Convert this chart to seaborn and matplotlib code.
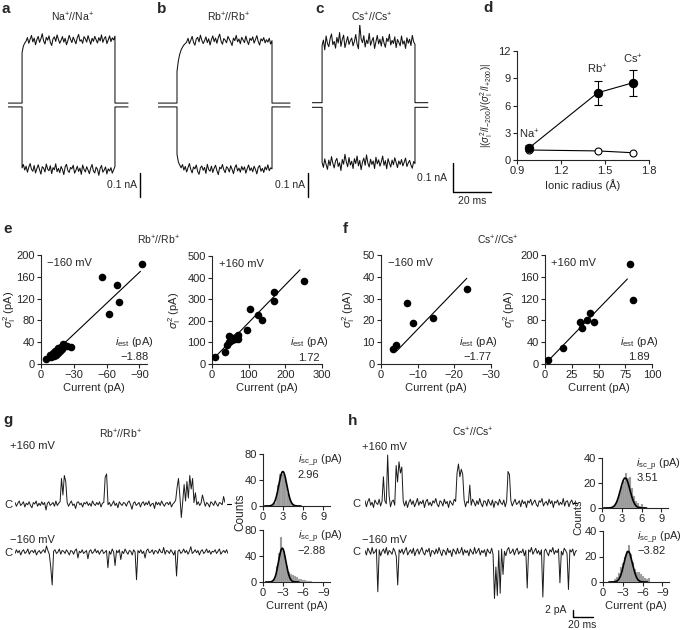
import numpy as np
import pandas as pd
import matplotlib
matplotlib.use('Agg')
import matplotlib.pyplot as plt
from matplotlib.lines import Line2D
import seaborn as sns

sns.set_style('ticks')
plt.rcParams['font.family'] = ['Liberation Sans', 'DejaVu Sans']
plt.rcParams['mathtext.fontset'] = 'custom'
plt.rcParams['mathtext.rm'] = 'Liberation Sans'
plt.rcParams['mathtext.it'] = 'Liberation Sans:italic'
plt.rcParams['mathtext.bf'] = 'Liberation Sans:bold'
plt.rcParams['axes.linewidth'] = 0.8

# ---- a-c: macroscopic currents (pA = nA*1000), plateau samples ----
a_top = [218, 246, 258, 266, 281, 257, 274, 290, 263, 279, 251, 272, 286, 261, 276, 297, 267, 254, 282, 270,
         288, 261, 248, 276, 284, 265, 292, 273, 257, 270, 285, 262, 278, 251, 268, 290, 274, 260, 283, 269,
         255, 280, 294, 266, 272, 257, 285, 276, 262, 289, 271, 253, 278, 265, 286, 272, 258, 281, 267, 292,
         261, 277, 285, 256, 271, 288, 264, 280, 271, 287]
a_bot = [-262, -248, -271, -255, -280, -259, -244, -268, -276, -252, -283, -265, -249, -270, -288, -257, -263,
         -279, -246, -267, -274, -253, -286, -261, -270, -245, -278, -264, -282, -256, -269, -290, -258, -247,
         -273, -281, -260, -266, -251, -284, -272, -255, -277, -263, -289, -250, -268, -279, -257, -271, -286,
         -262, -248, -275, -283, -259, -268, -293, -264, -252, -280, -271, -258, -287, -266, -275, -261, -284,
         -270, -256]
b_top = [140, 185, 212, 230, 241, 250, 256, 262, 278, 255, 270, 286, 261, 249, 275, 282, 263, 291, 270, 256,
         268, 284, 260, 276, 250, 272, 288, 264, 279, 257, 281, 295, 266, 253, 277, 270, 259, 286, 274, 262,
         248, 279, 268, 290, 263, 275, 255, 282, 271, 260, 287, 266, 252, 278, 269, 284, 258, 273, 289, 264,
         250, 276, 267, 281, 259, 272, 262, 278, 254, 268]
b_bot = [-205, -238, -250, -262, -248, -271, -256, -279, -261, -244, -268, -283, -258, -266, -250, -277, -289,
         -262, -254, -272, -260, -285, -247, -269, -276, -255, -281, -263, -251, -274, -290, -259, -266, -248,
         -270, -282, -257, -264, -279, -253, -268, -286, -261, -249, -275, -263, -280, -256, -271, -258, -284,
         -265, -250, -273, -262, -278, -255, -269, -287, -260, -252, -276, -264, -281, -258, -270, -249, -274,
         -262, -266]
c_top = [205, 224, 190, 238, 212, 201, 229, 245, 208, 219, 196, 233, 214, 250, 202, 226, 241, 198, 217, 236,
         209, 222, 231, 204, 219, 243, 210, 194, 278, 228, 215, 239, 200, 224, 212, 247, 206, 221, 233, 195,
         218, 240, 211, 227, 203, 236, 214, 199, 230, 219, 244, 207, 223, 212, 235, 198, 226, 216, 204, 238,
         210, 221, 195, 232, 213, 227, 205, 240, 218, 209]
c_bot = [-198, -215, -186, -205, -222, -190, -209, -178, -201, -217, -193, -184, -212, -199, -226, -188, -204,
         -170, -196, -213, -181, -207, -194, -219, -185, -202, -176, -210, -191, -223, -197, -183, -208, -172,
         -200, -214, -187, -205, -193, -219, -180, -203, -189, -211, -196, -176, -208, -192, -220, -185, -201,
         -214, -190, -206, -182, -198, -216, -193, -205, -188, -210, -197, -183, -212, -200, -191, -207, -218,
         -195, -202]
base_pA = [8, -8]          # holding level of the two sweeps
pulse_ms = {'a': (7.4, 56.3, 63.2), 'b': (10.0, 60.0, 69.5), 'c': (5.3, 54.2, 61.0)}

# ---- d ----
radius = [0.98, 1.45, 1.69]
ratio_closed = [1.3, 7.4, 8.5]
err_closed = [0.3, 1.3, 1.4]
ratio_open = [1.1, 1.0, 0.8]
ion_labels = ['Na$^{+}$', 'Rb$^{+}$', 'Cs$^{+}$']

# ---- e, f: variance vs mean current ----
e_neg_I = [-5, -8, -9, -11, -12, -12, -13, -14, -15, -16, -16, -17, -18, -19, -20, -21, -24, -27, -56, -62, -70, -71, -92]
e_neg_var = [10, 17, 12, 21, 14, 19, 24, 16, 26, 20, 29, 23, 32, 27, 37, 35, 33, 32, 159, 91, 145, 113, 183]
e_pos_I = [8, 36, 40, 45, 47, 49, 52, 55, 58, 62, 66, 72, 72, 95, 104, 125, 136, 170, 170, 252]
e_pos_var = [34, 56, 90, 100, 130, 108, 120, 112, 121, 118, 125, 133, 118, 157, 255, 225, 202, 290, 335, 382]
f_neg_I = [-3.2, -4.0, -7.1, -8.8, -14.3, -23.4]
f_neg_var = [6.9, 8.7, 27.8, 18.9, 21.0, 34.3]
f_pos_I = [3.1, 17, 32.8, 35, 39.6, 42, 45.8, 79.9, 82]
f_pos_var = [8, 29, 77, 66, 81, 94, 77, 183, 118]
fit_e_neg = ([-7, -91], [11, 170])
fit_e_pos = ([5, 240], [26, 436])
fit_f_neg = ([-4.3, -23.4], [6, 39.3])
fit_f_pos = ([3, 77], [6, 156])
i_est = ['\u22121.88', '1.72', '\u22121.77', '1.89']

# ---- g, h: single-channel records (0.1 pA units) ----
g_pos = [2, -3, 1, 4, -2, 0, 3, -4, 1, -1, 3, -2, -5, 2, 0, 4, -3, 1, -2, 3,
         -1, 2, -8, 1, 3, -2, 0, 2, -3, 4, -2, 1, 3, 34, 12, 38, 30, 2, -3, 1,
         4, -2, 0, -6, 2, 3, -1, 1, -4, 2, 0, 3, -2, 1, -3, 4, 0, -2, 2, -1,
         3, -4, 1, 2, 36, 40, -1, 2, -3, 0, 4, -2, 1, -5, 3, 0, -2, 2, 1, -3,
         2, 4, -1, -7, 1, 3, -2, 0, 2, -4, 1, 3, -2, 2, -1, 4, -3, 0, 1, -6,
         3, -1, 2, -2, 4, 0, -3, 1, 2, -1, 3, -4, 0, 2, 5, 22, 34, 10, -18, 3,
         26, 4, 30, 8, 38, 20, 34, 2, 15, -1, 3, -2, 1, 12, 4, -3, 2, 0, -4, 3,
         1, -2, 4, 0, -3, 2, 1, -1, 10, 2]
g_neg = [-2, 3, -1, 2, -4, 1, 3, -2, 0, 4, -3, 1, 2, -1, 3, -4, 0, 2, -2, 1,
         3, -1, 8, 2, -3, -20, -44, 1, 3, -2, 0, 4, -3, 2, 1, -2, 3, 0, -4, 2,
         1, -3, 2, 4, -8, 1, -1, 3, -2, 0, 2, -9, 1, 3, -2, 0, 4, -1, 2, -3,
         1, 3, -2, 0, 2, -21, 1, -3, 4, 0, -18, 2, -1, 3, -10, 1, -2, 4, 0, -3,
         2, 1, -4, 3, 0, -37, 2, -1, 3, -2, 1, -8, 2, 4, -1, 0, 3, -3, 2, 1,
         -2, 4, 0, -1, 6, -3, 2, 1, -2, 3, 0, -4, 2, -32, 1, 3, -2, 0, 4, -1,
         2, -3, 1, 7, -2, 0, 3, -1, 2, -4, 1, 3, -2, 0, 4, -1, 2, -3, 1, 0,
         3, -2, 1, 4, -3, 0, 2, -1, 3, -2]
h_pos = [3, -5, 2, 6, -3, 1, -6, 4, 0, -2, 5, -4, 2, 35, 3, -1, 64, 10, -5, 2,
         4, -3, 50, 28, 55, 40, 48, 2, -4, 3, -6, 1, 5, -2, 3, -5, 0, 6, -3, 2,
         -1, 4, -6, 2, 5, -3, 1, -4, 3, 0, 6, -2, -5, 3, 1, -4, 5, -1, 2, -6,
         3, 0, -3, 5, 2, 40, 52, 35, 45, 38, 4, -5, 2, 0, 24, -3, 5, 1, -4, 3,
         -2, 6, -1, -5, 3, 2, -4, 5, 0, -3, 4, -6, 2, 1, -3, 5, 0, -2, 4, -5,
         2, 42, 38, 3, -4, 1, 5, -2, 0, 3, -5, 4, -1, 2, -6, 3, 0, 5, -3, 1,
         4, -2, -5, 3, 1, 6, -4, 0, 2, -3, 5, -1, 3, -6, 2, 0, 4, -3, 1, -2,
         6, -4, 2, 3, -5, 1, 4, -2, 0, 3]
h_neg = [2, -4, 5, 1, -3, 6, -2, 0, 4, -53, 3, -5, 1, 4, -2, 6, -4, 2, 0, -3,
         5, 1, -6, -44, 3, -1, 4, -3, 2, 6, -4, 0, 3, -2, 5, -5, 1, 4, -3, 2,
         6, -1, -4, 3, 0, 5, -6, 2, 1, -3, 4, -2, 6, 0, -5, 3, 1, -4, 5, -1,
         2, -6, 4, 1, -3, 5, -2, 0, 6, -4, 3, -1, 2, -5, 4, 0, -3, 6, -2, 1,
         5, -4, 2, -1, 3, -6, 4, 0, -2, 5, -3, -62, -20, -58, 2, -55, 4, -30, 1, -5,
         3, 6, -2, 0, 4, -4, 2, 5, -3, 1, -1, 4, -5, 2, -48, 3, 0, 6, -3, 1,
         5, -2, 2, -4, 3, -60, 1, 4, -1, -5, 3, 0, 6, -3, 2, -1, 4, -41, 1, -4,
         5, 2, -2, -50, 3, 0, 4, -5, 1, 2]

# histograms (bin centres, counts) and Gaussian fit (peak, mean, sd)
g_up_x = [1.5, 1.75, 2.0, 2.25, 2.5, 2.75, 3.0, 3.25, 3.5, 3.75, 4.0, 4.25, 4.5, 4.75, 5.0]
g_up_n = [2, 5, 14, 32, 50, 53, 50, 45, 32, 20, 11, 6, 3, 2, 1]
g_dn_x = [-1.5, -1.8, -2.1, -2.4, -2.7, -3.0, -3.3, -3.6, -3.9, -4.2, -4.5, -4.8, -5.1, -5.4, -5.7, -6.0, -6.3, -6.6, -6.9, -7.2]
g_dn_n = [2, 8, 25, 45, 70, 50, 40, 25, 15, 12, 11, 10, 8, 5, 4, 3, 3, 2, 1, 1]
h_up_x = [1.5, 1.8, 2.1, 2.4, 2.7, 3.0, 3.3, 3.6, 3.9, 4.2, 4.5, 4.8, 5.1, 5.4, 5.7, 6.0, 6.3]
h_up_n = [1, 2, 4, 8, 13, 18, 22, 28, 24, 25, 16, 10, 6, 4, 2, 3, 1]
h_dn_x = [-1.2, -1.5, -1.8, -2.1, -2.4, -2.7, -3.0, -3.3, -3.6, -3.9, -4.2, -4.5, -4.8, -5.1, -5.4, -5.7, -6.0, -6.3, -6.6, -6.9]
h_dn_n = [1, 1, 2, 4, 7, 12, 15, 20, 24, 29, 22, 16, 10, 8, 8, 6, 5, 3, 2, 3]
g_up_fit = (53, 2.96, 0.6)
g_dn_fit = (52, -2.88, 0.55)
h_up_fit = (24, 3.51, 0.72)
h_dn_fit = (24, -3.82, 0.65)
i_sc = ['2.96', '\u22122.88', '3.51', '\u22123.82']

W, H = 685, 630
fig = plt.figure(figsize=(W / 100, H / 100), dpi=100)


def box(x0, y0, x1, y1):
    return fig.add_axes([x0 / W, 1 - y1 / H, (x1 - x0) / W, (y1 - y0) / H])


def ftext(x, y, s, **kw):
    kw.setdefault('fontsize', 8)
    fig.text(x / W, 1 - y / H, s, **kw)


def fline(xs, ys, lw=1.0):
    fig.add_artist(Line2D([x / W for x in xs], [1 - y / H for y in ys], color='k', lw=lw,
                          transform=fig.transFigure))


def style(ax):
    sns.despine(ax=ax)
    ax.tick_params(direction='out', length=3, width=0.8, labelsize=8, pad=1.5)


# ---------- a, b, c ----------
def pulse(ax, top, bot, key, px_per_nA):
    t_on, t_off, t_end = pulse_ms[key]
    for vals, b in ((top, base_pA[0]), (bot, base_pA[1])):
        t = np.concatenate([[0, t_on], np.linspace(t_on, t_off, len(vals)), [t_off, t_end]])
        y = np.concatenate([[b, b], vals, [b, b]]) / 1000
        sns.lineplot(x=t, y=y, ax=ax, color='#111111', lw=0.75, estimator=None, sort=False)
    ax.set_xlim(0, 142 / 1.9)
    ax.set_ylim(-100 / px_per_nA, 80 / px_per_nA)
    ax.axis('off')


pulse(box(8, 25, 150, 205), a_top, a_bot, 'a', 240)
pulse(box(158, 25, 300, 205), b_top, b_bot, 'b', 240)
pulse(box(312, 25, 454, 205), c_top, c_bot, 'c', 290)
ftext(72, 17, 'Na$^{+}$//Na$^{+}$', ha='center', va='center', fontsize=7.5)
ftext(228, 17, 'Rb$^{+}$//Rb$^{+}$', ha='center', va='center', fontsize=7.5)
ftext(372, 17, 'Cs$^{+}$//Cs$^{+}$', ha='center', va='center', fontsize=7.5)
fline([140, 140], [173, 197])
fline([308, 308], [173, 197])
fline([453, 453, 491], [163, 192, 192])
ftext(137, 185, '0.1 nA', ha='right', va='center', fontsize=7.5)
ftext(305, 185, '0.1 nA', ha='right', va='center', fontsize=7.5)
ftext(447, 178, '0.1 nA', ha='right', va='center', fontsize=7.5)
ftext(472, 201, '20 ms', ha='center', va='center', fontsize=7.5)

# ---------- d ----------
ax = box(517, 51, 649, 160)
ax.errorbar(radius, ratio_closed, yerr=err_closed, fmt='none', ecolor='k', elinewidth=0.8, capsize=3, capthick=0.8)
sns.lineplot(x=radius, y=ratio_open, ax=ax, color='k', lw=0.8, marker='o', markersize=5,
             markerfacecolor='white', markeredgecolor='k', markeredgewidth=0.8)
sns.lineplot(x=radius, y=ratio_closed, ax=ax, color='k', lw=0.8, marker='o', markersize=6,
             markerfacecolor='k', markeredgecolor='k')
for r, v, e, s in zip(radius, ratio_closed, err_closed, ion_labels):
    ax.text(r, v + e + 0.5, s, ha='center', va='bottom', fontsize=8)
ax.set_xlim(0.9, 1.8)
ax.set_ylim(0, 12)
ax.set_xticks([0.9, 1.2, 1.5, 1.8])
ax.set_yticks([0, 3, 6, 9, 12])
ax.set_xlabel('Ionic radius (\u00c5)', fontsize=8, labelpad=2)
ax.set_ylabel(r'$|(\sigma_{\rm I}^{2}/I_{-200})/(\sigma_{\rm I}^{2}/I_{+200})|$', fontsize=7, labelpad=2)
style(ax)


# ---------- e, f ----------
def scatter(rect, xs, ys, fit, xlim, xticks, ylim, yticks, mv, iest, label_x):
    ax = box(*rect)
    sns.lineplot(x=fit[0], y=fit[1], ax=ax, color='k', lw=0.8)
    sns.scatterplot(x=xs, y=ys, ax=ax, color='k', s=30, linewidth=0, zorder=3)
    ax.set_xlim(*xlim)
    ax.set_ylim(*ylim)
    ax.set_xticks(xticks)
    ax.set_yticks(yticks)
    ax.set_xlabel('Current (pA)', fontsize=8, labelpad=2)
    ax.set_ylabel(r'$\sigma_{\rm I}^{2}$ (pA)', fontsize=8)
    ax.yaxis.set_label_coords(label_x, 0.5)
    ax.text(0.06, 0.97, mv, transform=ax.transAxes, ha='left', va='top', fontsize=8)
    ax.text(0.88, 0.2, r'$i_{\rm est}$ (pA)', transform=ax.transAxes, ha='center', va='center', fontsize=8)
    ax.text(0.88, 0.06, iest, transform=ax.transAxes, ha='center', va='center', fontsize=8)
    style(ax)


scatter((41, 255, 147, 364), e_neg_I, e_neg_var, fit_e_neg, (0, -97), [0, -30, -60, -90], (0, 200),
        [0, 40, 80, 120, 160, 200], '\u2212160 mV', i_est[0], -0.22)
scatter((212, 256, 322, 364), e_pos_I, e_pos_var, fit_e_pos, (0, 300), [0, 100, 200, 300], (0, 500),
        [0, 100, 200, 300, 400, 500], '+160 mV', i_est[1], -0.26)
scatter((381, 255, 491, 364), f_neg_I, f_neg_var, fit_f_neg, (0, -30), [0, -10, -20, -30], (0, 50),
        [0, 10, 20, 30, 40, 50], '\u2212160 mV', i_est[2], -0.22)
scatter((545, 255, 652, 364), f_pos_I, f_pos_var, fit_f_pos, (0, 100), [0, 25, 50, 75, 100], (0, 200),
        [0, 40, 80, 120, 160, 200], '+160 mV', i_est[3], -0.25)
ftext(158, 240, 'Rb$^{+}$//Rb$^{+}$', ha='center', va='center', fontsize=7.5)
ftext(498, 240, 'Cs$^{+}$//Cs$^{+}$', ha='center', va='center', fontsize=7.5)


# ---------- g, h ----------
def trace(rect, vals, ylim):
    ax = box(*rect)
    sns.lineplot(x=np.arange(len(vals)), y=np.array(vals) / 10, ax=ax, color='#1a1a1a', lw=0.7,
                 estimator=None)
    ax.set_xlim(0, len(vals) - 1)
    ax.set_ylim(*ylim)
    ax.axis('off')


trace((15, 468, 225, 520), g_pos, (-16 / 7.5, 36 / 7.5))
trace((15, 540, 228, 592), g_neg, (-40 / 7.5, 12 / 7.5))
trace((365, 450, 576, 520), h_pos, (-17 / 7.5, 53 / 7.5))
trace((365, 540, 577, 605), h_neg, (-53 / 7.5, 12 / 7.5))


def hist(rect, xs, ns, fit, xlim, xticks, ylim, yticks, label, val, xlabel=False):
    ax = box(*rect)
    xs = np.array(xs, dtype=float)
    w = abs(xs[1] - xs[0])
    lo = xs.min() - w / 2
    edges = [lo + k * w for k in range(len(xs) + 1)]
    df = pd.DataFrame({'current': xs, 'count': ns})
    sns.histplot(data=df, x='current', weights='count', bins=edges, ax=ax, color='#8f8f8f',
                 edgecolor='#d8d8d8', linewidth=0.2, alpha=1)
    peak, mu, sd = fit
    gx = np.linspace(mu - 4.5 * sd, mu + 4.5 * sd, 200)
    sns.lineplot(x=gx, y=peak * np.exp(-(gx - mu) ** 2 / (2 * sd ** 2)), ax=ax, color='k', lw=1.2)
    ax.set_xlim(*xlim)
    ax.set_ylim(*ylim)
    ax.set_xticks(xticks)
    ax.set_yticks(yticks)
    ax.set_ylabel('')
    ax.set_xlabel('Current (pA)' if xlabel else '', fontsize=8, labelpad=2)
    ax.text(0.52, 0.86, label, transform=ax.transAxes, ha='left', va='center', fontsize=8)
    ax.text(0.52, 0.6, val, transform=ax.transAxes, ha='left', va='center', fontsize=8)
    style(ax)


isc = r'$i_{\mathrm{sc\_p}}$ (pA)'
hist((263, 454, 330, 506), g_up_x, g_up_n, g_up_fit, (0, 10), [0, 3, 6, 9], (0, 80), [0, 40, 80], isc, i_sc[0])
hist((263, 530, 330, 582), g_dn_x, g_dn_n, g_dn_fit, (0, -10), [0, -3, -6, -9], (0, 80), [0, 40, 80], isc,
     i_sc[1], True)
hist((602, 458, 668, 508), h_up_x, h_up_n, h_up_fit, (0, 10), [0, 3, 6, 9], (0, 40), [0, 20, 40], isc, i_sc[2])
hist((603, 531, 669, 582), h_dn_x, h_dn_n, h_dn_fit, (0, -10), [0, -3, -6, -9], (0, 40), [0, 20, 40], isc,
     i_sc[3], True)

ftext(240, 512, 'Counts', rotation=90, ha='center', va='center', fontsize=8.5)
ftext(578, 517, 'Counts', rotation=90, ha='center', va='center', fontsize=8)
ftext(120, 434, 'Rb$^{+}$//Rb$^{+}$', ha='center', va='center', fontsize=7.5)
ftext(473, 432, 'Cs$^{+}$//Cs$^{+}$', ha='center', va='center', fontsize=7.5)
ftext(10, 446, '+160 mV', ha='left', va='center')
ftext(10, 540, '\u2212160 mV', ha='left', va='center')
ftext(362, 447, '+160 mV', ha='left', va='center')
ftext(362, 540, '\u2212160 mV', ha='left', va='center')
for x, y in ((4, 505), (4, 553), (352, 504), (352, 552)):
    ftext(x, y, 'C', ha='left', va='center')
fline([227, 231], [504, 504], lw=0.8)
fline([573, 577], [503, 503], lw=0.8)
fline([573, 573, 593], [610, 617, 617])
ftext(566, 610, '2 pA', ha='right', va='center', fontsize=7.5)
ftext(582, 625, '20 ms', ha='center', va='center', fontsize=7.5)

# panel letters
for s, x, y in (('a', 2, 13), ('b', 157, 13), ('c', 315, 13), ('d', 483, 12), ('e', 3, 233),
                ('f', 343, 233), ('g', 3, 424), ('h', 348, 425)):
    ftext(x, y, s, ha='left', va='baseline', fontsize=11, fontweight='bold')

fig.savefig('out.png', dpi=100)
